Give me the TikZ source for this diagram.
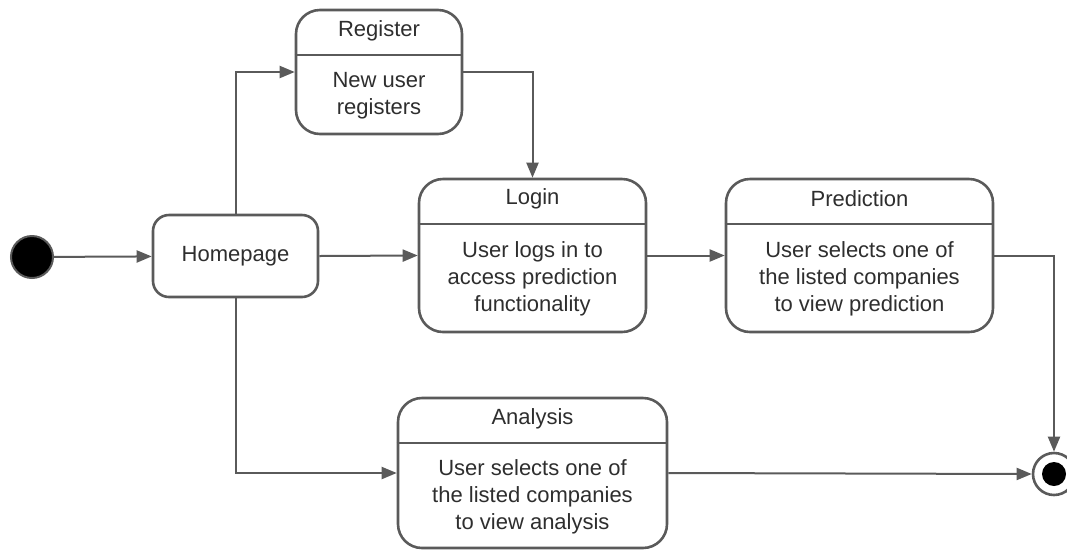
\documentclass[tikz,border=0pt]{standalone}
\usepackage{fontspec}
\setmainfont{Liberation Sans}
\usetikzlibrary{arrows.meta}
\definecolor{stroke}{HTML}{5A5A5A}
\definecolor{txt}{HTML}{2E2E2E}
\begin{document}
\begin{tikzpicture}[x=1pt,y=-1pt,
  statebox/.style={draw=stroke, line width=2.6pt, rounded corners=24pt, fill=white, inner sep=0pt},
  label/.style={text=txt, font=\fontsize{22}{27}\selectfont, align=center, inner sep=0pt},
  divider/.style={draw=stroke, line width=2.4pt},
  flow/.style={draw=stroke, line width=2pt, -{Triangle[length=15pt,width=12pt]}},
  flowplain/.style={draw=stroke, line width=2pt}]
\useasboundingbox (0,0) rectangle (1067,550);

% initial and final
\node[circle, fill=black, draw=stroke, line width=2pt, minimum size=42pt, inner sep=0pt] (start) at (32,257) {};
\node[circle, fill=white, draw=stroke, line width=2.6pt, minimum size=42pt, inner sep=0pt] (final) at (1054,474) {};
\node[circle, fill=black, minimum size=24pt, inner sep=0pt] (finaldot) at (final.center) {};

% Homepage
\node[statebox, minimum width=165pt, minimum height=82pt, rounded corners=16pt] (home) at (235.5,256) {};
\node[label] (hometext) at (home.center) {Homepage};

% Register
\node[statebox, minimum width=166pt, minimum height=124pt] (reg) at (379,72) {};
\draw[divider] (reg.west |- 0,55) -- (reg.east |- 0,55);
\node[label] (regt) at (379,31) {Register};
\node[label] (regb) at (379,96) {New user\\registers};

% Login
\node[statebox, minimum width=227pt, minimum height=153pt] (login) at (532.5,255.5) {};
\draw[divider] (login.west |- 0,224) -- (login.east |- 0,224);
\node[label] (logint) at (532.5,199) {Login};
\node[label] (loginb) at (532.5,279) {User logs in to\\access prediction\\functionality};

% Prediction
\node[statebox, minimum width=267pt, minimum height=153pt] (pred) at (859.5,255.5) {};
\draw[divider] (pred.west |- 0,224) -- (pred.east |- 0,224);
\node[label] (predt) at (859.5,199) {Prediction};
\node[label] (predb) at (859.5,279) {User selects one of\\the listed companies\\to view prediction};

% Analysis
\node[statebox, minimum width=269pt, minimum height=150pt] (ana) at (532.5,473) {};
\draw[divider] (ana.west |- 0,443) -- (ana.east |- 0,443);
\node[label] (anat) at (532.5,419) {Analysis};
\node[label] (anab) at (532.5,497) {User selects one of\\the listed companies\\to view analysis};

% connectors
\draw[flow] (start) -- (home);
\draw[flow] (home.north) |- (reg.west);
\draw[flow] (reg.east) -| (login.north);
\draw[flow] (home.east) -- (login.west);
\draw[flow] (login.east) -- (pred.west);
\draw[flow] (pred.east) -| (final.north);
\draw[flow] (home.south) |- (ana.west);
\draw[flow] (ana.east) -- (final.west);
\end{tikzpicture}
\end{document}
